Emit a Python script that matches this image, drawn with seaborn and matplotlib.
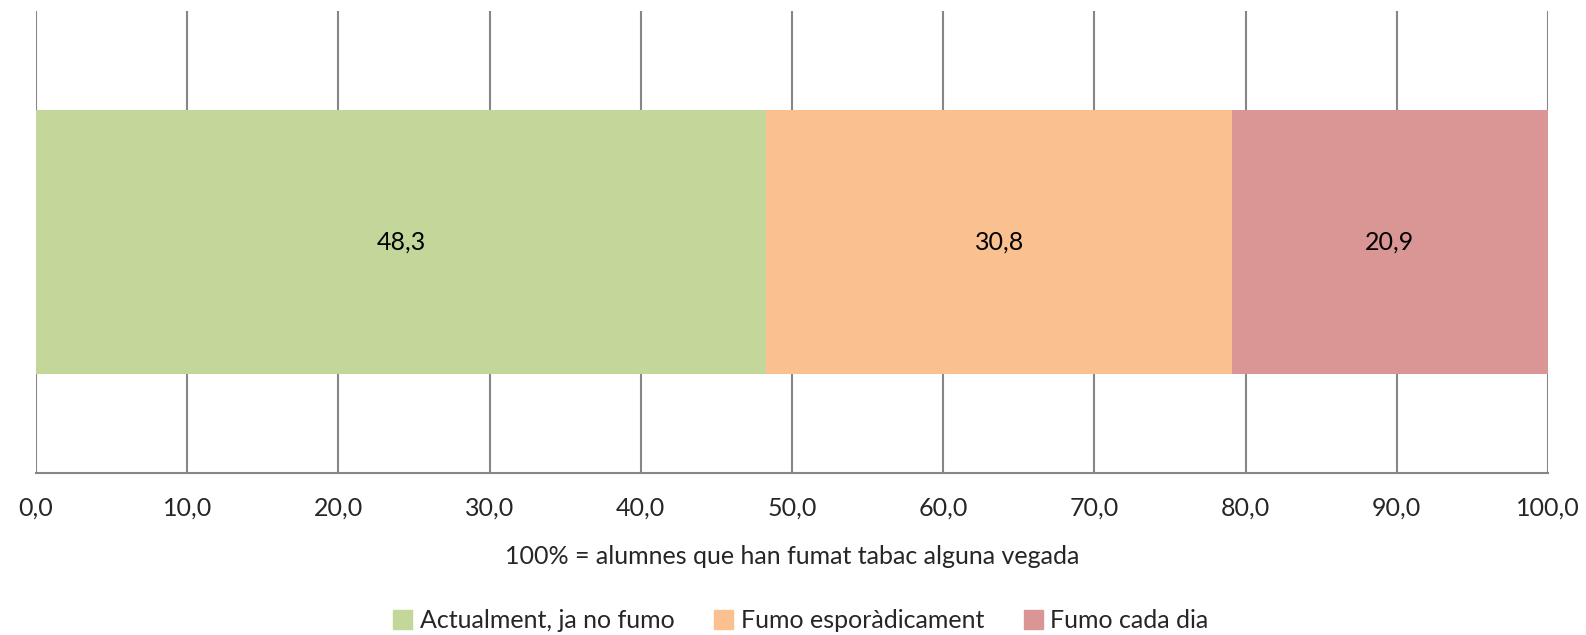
import pandas as pd
import matplotlib.pyplot as plt
import seaborn as sns

# Data
categories = ['Actualment, ja no fumo', 'Fumo esporàdicament', 'Fumo cada dia']
values = [48.3, 30.8, 20.9]
colors = ['#C4D79B', '#FAC090', '#DA9694']
xticks = [0, 10, 20, 30, 40, 50, 60, 70, 80, 90, 100]
xlabel = '100% = alumnes que han fumat tabac alguna vegada'

sns.set_style('white')
plt.rcParams['font.family'] = ['Lato', 'DejaVu Sans']

df = pd.DataFrame({'cat': categories, 'val': values})
df['cum'] = df['val'].cumsum()
df['row'] = ''

fig = plt.figure(figsize=(15.86, 6.35), dpi=100)
ax = fig.add_axes([0.0227, 0.255, 0.9533, 0.728])

# stacked: draw cumulative totals, largest first
for i in reversed(range(len(df))):
    sns.barplot(data=df.iloc[[i]], x='cum', y='row', orient='h', color=colors[i],
                width=0.571, saturation=1, linewidth=0, ax=ax, zorder=2)

starts = df['cum'] - df['val']
for s, v in zip(starts, df['val']):
    ax.text(s + v / 2, 0, f'{v:.1f}'.replace('.', ','), ha='center', va='center',
            fontsize=18, color='black', zorder=3)

ax.set_xlim(0, 100)
ax.set_ylim(0.5, -0.5)
ax.set_xticks(xticks)
ax.set_xticklabels([f'{t:.1f}'.replace('.', ',') for t in xticks], fontsize=18)
ax.set_yticks([])
ax.set_ylabel('')
ax.set_xlabel(xlabel, fontsize=18, labelpad=18)
ax.grid(axis='x', color='#868686', linewidth=1.5, zorder=0)
ax.set_axisbelow(True)
for side in ['top', 'left', 'right']:
    ax.spines[side].set_visible(False)
ax.spines['bottom'].set_color('#868686')
ax.spines['bottom'].set_linewidth(1.5)
ax.tick_params(axis='x', direction='out', length=7, width=1.5, color='#868686', pad=10)

handles = [plt.Rectangle((0, 0), 1, 1, color=c) for c in colors]
fig.legend(handles, categories, loc='lower center', ncol=3, frameon=False,
           fontsize=18, handlelength=0.75, handleheight=0.75, handletextpad=0.3,
           columnspacing=1.6, bbox_to_anchor=(0.505, -0.031))

fig.savefig('out.png', dpi=100)
